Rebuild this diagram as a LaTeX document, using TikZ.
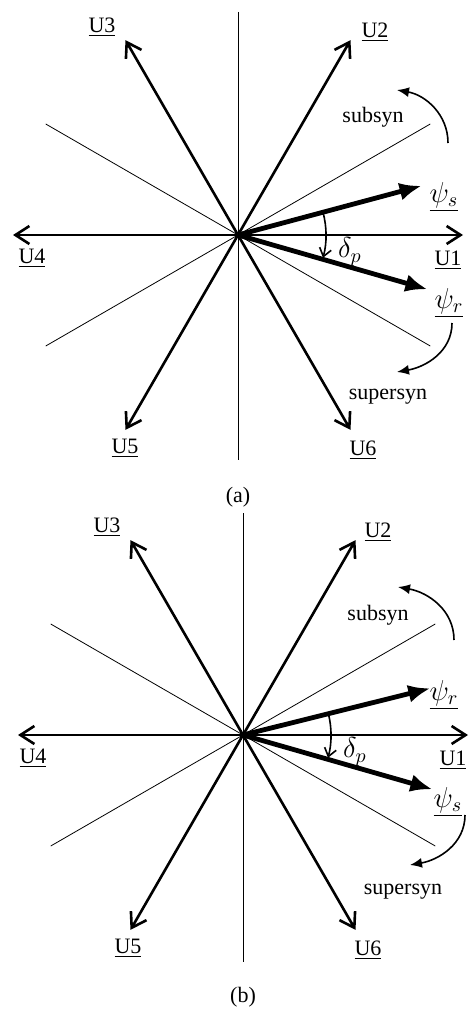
\documentclass[tikz,border=0pt]{standalone}
\usepackage{fontspec}
\setmainfont{Liberation Serif}
\usetikzlibrary{arrows.meta}

\begin{document}
\begin{tikzpicture}[
    x=0.5pt,y=0.5pt,
    font=\fontsize{11}{13}\selectfont,
    sector/.style={line width=0.4pt},
    phase/.style={line width=1.3pt,-{Straight Barb[length=7pt,width=9pt]}},
    flux/.style={line width=2.4pt,-{Latex[length=11pt,width=9pt]}},
    turn/.style={line width=0.8pt,-{Latex[length=6pt,width=5pt]}},
    angarc/.style={line width=0.8pt,-{Straight Barb[length=4pt,width=6pt]}},
    lbl/.style={inner sep=1pt},
    sym/.style={inner sep=1pt,font=\fontsize{14}{16}\selectfont}
]
\useasboundingbox (0,0) rectangle (470,-1011);

% (a) rotor flux behind stator flux
\begin{scope}[shift={(238,-235)}]
\coordinate (Oa) at (0,0);
\coordinate (vtopa) at (0,223);
\coordinate (vbota) at (0,-225);
\draw[sector] (vtopa) -- (vbota);
\draw[sector] (150:222) -- (-30:222);
\draw[sector] (30:222) -- (210:222);
\foreach \k in {1,...,6}
  \draw[phase] (Oa) -- ({(\k-1)*60}:225) coordinate (U\k a);
\node[lbl] (lU1a) at (210,-25) {\underline{U1}};
\node[lbl] (lU2a) at (137,203) {\underline{U2}};
\node[lbl] (lU3a) at (-136,208) {\underline{U3}};
\node[lbl] (lU4a) at (-206,-23) {\underline{U4}};
\node[lbl] (lU5a) at (-113,-213) {\underline{U5}};
\node[lbl] (lU6a) at (125,-215) {\underline{U6}};
% fluxes
\draw[flux] (Oa) -- (15:190) coordinate (psisa);
\draw[flux] (Oa) -- (-16:197) coordinate (psira);
\node[sym] (lpsisa) at (206,38) {$\underline{\psi_s}$};
\node[sym] (lpsira) at (211,-68) {$\underline{\psi_r}$};
\draw[angarc] (15:88) arc[start angle=15,end angle=-15,radius=88];
\node[sym] (deltaa) at (112,-17) {$\delta_p$};
% directions
\node[lbl] (suba) at (135,118) {subsyn};
\node[lbl] (supa) at (150,-162) {supersyn};
\coordinate (subsa) at (210,92);
\coordinate (subea) at (159,145);
\coordinate (supsa) at (214,-88);
\coordinate (supea) at (159,-137);
\draw[turn] (subsa) to[out=90,in=-10] (subea);
\draw[turn] (supsa) to[out=-90,in=10] (supea);
\end{scope}
\node (capa) at (238,-497) {(a)};

% (b) rotor flux ahead of stator flux
\begin{scope}[shift={(243,-735)}]
\coordinate (Ob) at (0,0);
\coordinate (vtopb) at (0,222);
\coordinate (vbotb) at (0,-227);
\draw[sector] (vtopb) -- (vbotb);
\draw[sector] (150:222) -- (-30:222);
\draw[sector] (30:222) -- (210:222);
\foreach \k in {1,...,6}
  \draw[phase] (Ob) -- ({(\k-1)*60}:225) coordinate (U\k b);
\node[lbl] (lU1b) at (210,-25) {\underline{U1}};
\node[lbl] (lU2b) at (135,203) {\underline{U2}};
\node[lbl] (lU3b) at (-136,208) {\underline{U3}};
\node[lbl] (lU4b) at (-210,-23) {\underline{U4}};
\node[lbl] (lU5b) at (-115,-213) {\underline{U5}};
\node[lbl] (lU6b) at (125,-215) {\underline{U6}};
% fluxes
\draw[flux] (Ob) -- (14:193) coordinate (psirb);
\draw[flux] (Ob) -- (-16:197) coordinate (psisb);
\node[sym] (lpsirb) at (201,40) {$\underline{\psi_r}$};
\node[sym] (lpsisb) at (205,-67) {$\underline{\psi_s}$};
\draw[angarc] (14:88) arc[start angle=14,end angle=-15,radius=88];
\node[sym] (deltab) at (112,-17) {$\delta_p$};
% directions
\node[lbl] (subb) at (135,120) {subsyn};
\node[lbl] (supb) at (160,-157) {supersyn};
\coordinate (subsb) at (211,95);
\coordinate (subeb) at (155,148);
\coordinate (supsb) at (222,-80);
\coordinate (supeb) at (167,-130);
\draw[turn] (subsb) to[out=90,in=-10] (subeb);
\draw[turn] (supsb) to[out=-90,in=10] (supeb);
\end{scope}
\node (capb) at (243,-997) {(b)};
\end{tikzpicture}
\end{document}
